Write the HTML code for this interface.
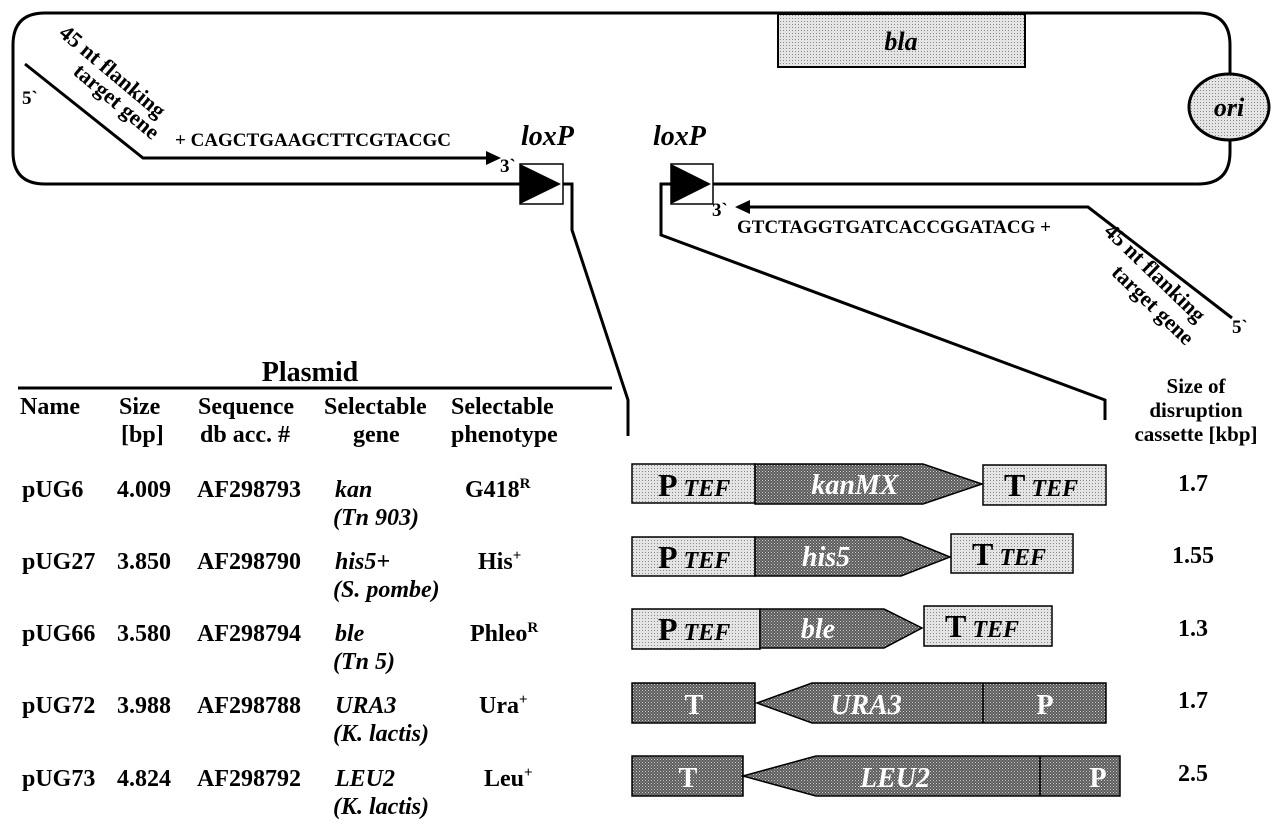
<!DOCTYPE html>
<html><head><meta charset="utf-8"><style>
html,body{margin:0;padding:0;background:#fff;}
svg{display:block;}
text{font-family:"Liberation Serif",serif;font-weight:bold;fill:#000;}
.i{font-style:italic;}
.w{fill:#fff;}
</style></head><body>
<svg width="1280" height="824" viewBox="0 0 1280 824" xmlns="http://www.w3.org/2000/svg">
<defs>
<pattern id="lt" width="3" height="3" patternUnits="userSpaceOnUse"><rect width="3" height="3" fill="#e4e4e4"/><rect width="1" height="1" fill="#8a8a8a"/></pattern>
<pattern id="dk" width="3" height="3" patternUnits="userSpaceOnUse"><rect width="3" height="3" fill="#5a5a5a"/><rect width="1" height="1" fill="#d0d0d0"/><rect x="1.5" y="1.5" width="1" height="1" fill="#bdbdbd"/></pattern>
</defs>
<g fill="none" stroke="#000" stroke-width="3">
<path d="M520 184 H45 Q13 184 13 152 V45 Q13 13 45 13 H1198 Q1230 13 1230 45 V75"/>
<path d="M1230 140 V152 Q1230 184 1198 184 H713"/>
<path d="M563 184 H572 V230 L628 400 V436"/>
<path d="M671 184 H661 V235 L1105 400 V420"/>
<path d="M25 64 L143 158 H488"/>
<path d="M1232 318 L1088 207 H748"/>
</g>
<polygon points="486,151 501,158 486,165" fill="#000"/>
<polygon points="750,200 735,207 750,214" fill="#000"/>
<rect x="778" y="14" width="247" height="53" fill="url(#lt)" stroke="#000" stroke-width="2"/>
<text x="901" y="50" font-size="26" class="i" text-anchor="middle">bla</text>
<ellipse cx="1229" cy="107" rx="40" ry="33" fill="url(#lt)" stroke="#000" stroke-width="3"/>
<text x="1229" y="116" font-size="26" class="i" text-anchor="middle">ori</text>
<rect x="520" y="164" width="43" height="40" fill="#fff" stroke="#000" stroke-width="1.5"/>
<polygon points="520,164 520,204 561,184" fill="#000"/>
<rect x="671" y="164" width="42" height="40" fill="#fff" stroke="#000" stroke-width="1.5"/>
<polygon points="671,164 671,204 711,184" fill="#000"/>
<text x="521" y="145" font-size="28" class="i">loxP</text>
<text x="653" y="145" font-size="28" class="i">loxP</text>
<text x="22" y="104" font-size="19">5`</text>
<text x="500" y="172" font-size="19">3`</text>
<text x="175" y="146" font-size="19">+ CAGCTGAAGCTTCGTACGC</text>
<text x="712" y="216" font-size="19">3`</text>
<text x="737" y="233" font-size="19">GTCTAGGTGATCACCGGATACG +</text>
<text x="1232" y="333" font-size="19">5`</text>
<g font-size="22" text-anchor="middle">
<text transform="translate(108 77) rotate(40)">45 nt flanking</text>
<text transform="translate(112 107) rotate(40)">target gene</text>
<text transform="translate(1150 278) rotate(44)">45 nt flanking</text>
<text transform="translate(1148 310) rotate(44)">target gene</text>
</g>
<text x="310" y="381" font-size="28" text-anchor="middle">Plasmid</text>
<line x1="18" y1="388" x2="612" y2="388" stroke="#000" stroke-width="3"/>
<g font-size="24">
<text x="20" y="414">Name</text>
<text x="119" y="414">Size</text><text x="121" y="442">[bp]</text>
<text x="198" y="414">Sequence</text><text x="200" y="442">db acc. #</text>
<text x="324" y="414">Selectable</text><text x="353" y="442">gene</text>
<text x="451" y="414">Selectable</text><text x="451" y="442">phenotype</text>

<text x="22" y="497">pUG6</text><text x="117" y="497">4.009</text><text x="197" y="497">AF298793</text>
<text x="335" y="497" class="i">kan</text><text x="333" y="525" class="i">(Tn 903)</text>
<text x="465" y="497">G418<tspan font-size="15" dy="-9">R</tspan></text>

<text x="22" y="569">pUG27</text><text x="117" y="569">3.850</text><text x="197" y="569">AF298790</text>
<text x="335" y="569" class="i">his5+</text><text x="333" y="597" class="i">(S. pombe)</text>
<text x="478" y="569">His<tspan font-size="15" dy="-9">+</tspan></text>

<text x="22" y="641">pUG66</text><text x="117" y="641">3.580</text><text x="197" y="641">AF298794</text>
<text x="335" y="641" class="i">ble</text><text x="333" y="669" class="i">(Tn 5)</text>
<text x="470" y="641">Phleo<tspan font-size="15" dy="-9">R</tspan></text>

<text x="22" y="713">pUG72</text><text x="117" y="713">3.988</text><text x="197" y="713">AF298788</text>
<text x="335" y="713" class="i">URA3</text><text x="333" y="741" class="i">(K. lactis)</text>
<text x="479" y="713">Ura<tspan font-size="15" dy="-9">+</tspan></text>

<text x="22" y="786">pUG73</text><text x="117" y="786">4.824</text><text x="197" y="786">AF298792</text>
<text x="335" y="786" class="i">LEU2</text><text x="333" y="814" class="i">(K. lactis)</text>
<text x="484" y="786">Leu<tspan font-size="15" dy="-9">+</tspan></text>

<text x="1196" y="393" text-anchor="middle" font-size="21">Size of</text>
<text x="1196" y="417" text-anchor="middle" font-size="21">disruption</text>
<text x="1196" y="441" text-anchor="middle" font-size="21">cassette [kbp]</text>
<text x="1193" y="491" text-anchor="middle">1.7</text>
<text x="1193" y="563" text-anchor="middle">1.55</text>
<text x="1193" y="636" text-anchor="middle">1.3</text>
<text x="1193" y="708" text-anchor="middle">1.7</text>
<text x="1193" y="781" text-anchor="middle">2.5</text>
</g>
<g stroke="#000" stroke-width="1.5">
<rect x="632" y="464" width="123" height="39" fill="url(#lt)"/>
<polygon points="755,464 923,464 982,484 923,504 755,504" fill="url(#dk)"/>
<rect x="983" y="465" width="123" height="40" fill="url(#lt)"/>
<rect x="632" y="537" width="123" height="39" fill="url(#lt)"/>
<polygon points="755,537 901,537 950,557 901,576 755,576" fill="url(#dk)"/>
<rect x="951" y="534" width="122" height="39" fill="url(#lt)"/>
<rect x="632" y="609" width="128" height="40" fill="url(#lt)"/>
<polygon points="760,609 884,609 922,628 884,648 760,648" fill="url(#dk)"/>
<rect x="924" y="606" width="128" height="40" fill="url(#lt)"/>
<rect x="632" y="683" width="123" height="40" fill="url(#dk)"/>
<polygon points="757,703 812,683 1106,683 1106,723 812,723" fill="url(#dk)"/>
<line x1="983" y1="683" x2="983" y2="723"/>
<rect x="632" y="756" width="111" height="40" fill="url(#dk)"/>
<polygon points="743,776 816,756 1120,756 1120,796 816,796" fill="url(#dk)"/>
<line x1="1040" y1="756" x2="1040" y2="796"/>
</g>
<g font-size="32">
<text x="658" y="496">P<tspan class="i" font-size="24"> TEF</tspan></text>
<text x="855" y="494" class="i w" text-anchor="middle" font-size="28">kanMX</text>
<text x="1004" y="496">T<tspan class="i" font-size="24"> TEF</tspan></text>
<text x="658" y="568">P<tspan class="i" font-size="24"> TEF</tspan></text>
<text x="826" y="566" class="i w" text-anchor="middle" font-size="28">his5</text>
<text x="972" y="565">T<tspan class="i" font-size="24"> TEF</tspan></text>
<text x="658" y="640">P<tspan class="i" font-size="24"> TEF</tspan></text>
<text x="818" y="638" class="i w" text-anchor="middle" font-size="28">ble</text>
<text x="945" y="637">T<tspan class="i" font-size="24"> TEF</tspan></text>
<text x="694" y="714" class="w" text-anchor="middle" font-size="28">T</text>
<text x="866" y="714" class="i w" text-anchor="middle" font-size="28">URA3</text>
<text x="1045" y="714" class="w" text-anchor="middle" font-size="28">P</text>
<text x="688" y="787" class="w" text-anchor="middle" font-size="28">T</text>
<text x="895" y="787" class="i w" text-anchor="middle" font-size="28">LEU2</text>
<text x="1098" y="787" class="w" text-anchor="middle" font-size="28">P</text>
</g>
</svg>
</body></html>
